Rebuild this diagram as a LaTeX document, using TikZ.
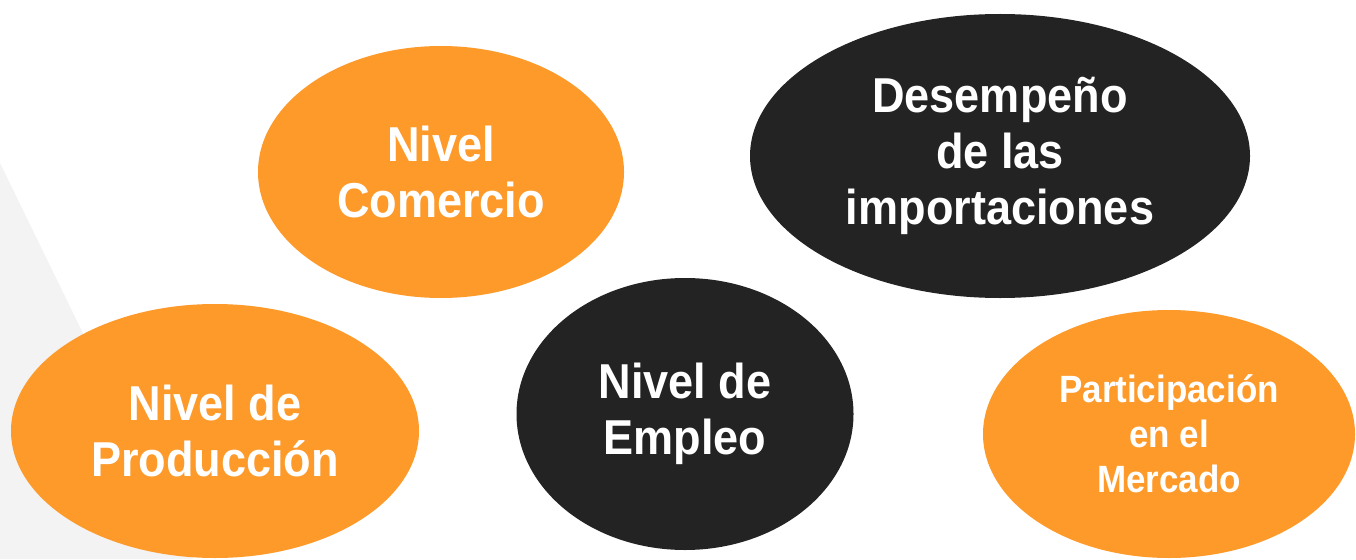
\documentclass[tikz,border=0pt]{standalone}
\usepackage{fontspec}
\setmainfont[FakeStretch=0.92]{Liberation Sans}
\usetikzlibrary{shapes.geometric}
\definecolor{naranja}{HTML}{FD9A2A}
\definecolor{negro}{HTML}{232323}
\definecolor{fondo}{HTML}{F3F3F3}
\def\big{\fontsize{49}{56}\selectfont\bfseries}
\def\small{\fontsize{38}{45}\selectfont\bfseries}

\begin{document}
\begin{tikzpicture}[x=1pt,y=-1pt]
\tikzset{burbuja/.style={ellipse,inner sep=0pt,text=white,align=center,font=\big},
  nar/.style={burbuja,fill=naranja},
  neg/.style={burbuja,fill=negro}}
\useasboundingbox (0,0) rectangle (1356,559);
\fill[fondo] (0,163) -- (193,559) -- (0,559) -- cycle;
\node[nar,minimum width=366pt,minimum height=252pt] (comer) at (441,172) {Nivel\\Comercio};
\node[neg,minimum width=500pt,minimum height=284pt] (desemp) at (1000,156) {Desempeño\\de las\\importaciones};
\node[nar,minimum width=408pt,minimum height=254pt] (prod) at (215,431) {Nivel de\\Producción};
\node[neg,minimum width=337pt,minimum height=272pt] (empleo) at (685,414) {Nivel de\\Empleo};
% el texto de este es mas chico
\node[nar,minimum width=372pt,minimum height=248pt,font=\small] (partic) at (1169,434) {Participación\\en el\\Mercado};
\end{tikzpicture}
\end{document}
